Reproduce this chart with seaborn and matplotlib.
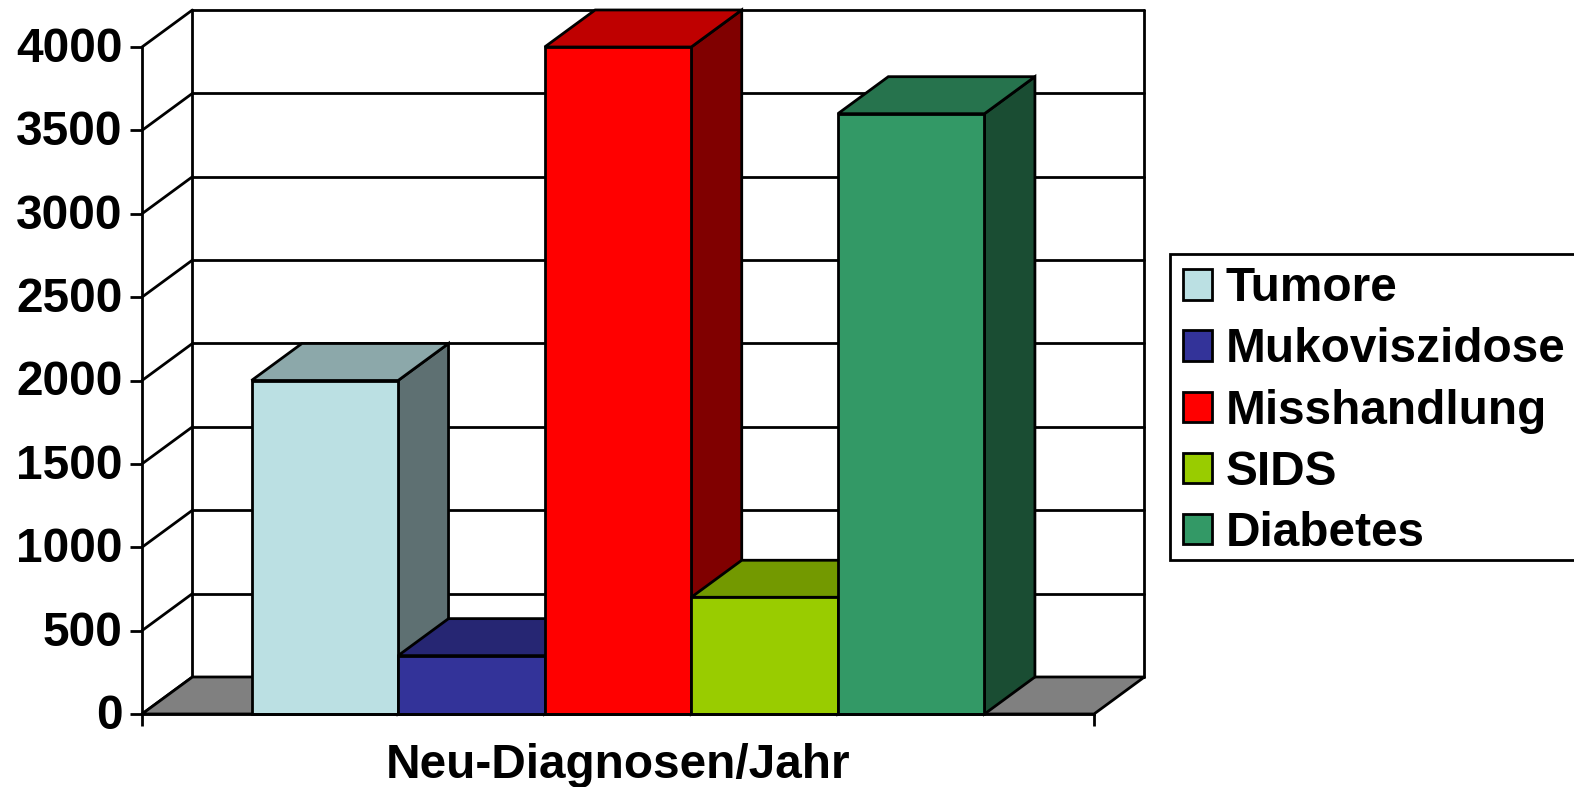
import seaborn as sns
import matplotlib.pyplot as plt
from matplotlib.patches import Patch, Polygon, Rectangle
from matplotlib.colors import to_rgb
from matplotlib.transforms import ScaledTranslation

sns.set_theme(style="white")
plt.rcParams['font.family'] = ['Liberation Sans', 'DejaVu Sans']

# Data
categories = ['Tumore', 'Mukoviszidose', 'Misshandlung', 'SIDS', 'Diabetes']
values = [2000, 350, 4000, 700, 3600]
colors = ['#BBE0E3', '#333399', '#FF0000', '#99CC00', '#339966']
y_ticks = [0, 500, 1000, 1500, 2000, 2500, 3000, 3500, 4000]
x_label = 'Neu-Diagnosen/Jahr'

W, H = 1574, 787
LW = 2.0
FS = 34.4

# depth of the fake 3d box in data units
xlim = (-1.247, 5.247)
ylim = (0, 4000)
dx = 0.344
dy = 222


def shade(c, f):
    return tuple(v * f for v in to_rgb(c))


fig = plt.figure(figsize=(W / 100, H / 100), dpi=100)
ax = fig.add_axes([142 / W, 1 - 714 / H, 952 / W, 667 / H])

sns.barplot(x=categories, y=values, hue=categories, palette=colors, dodge=False, saturation=1,
            width=1, edgecolor='black', linewidth=LW, legend=False, ax=ax, clip_on=False)
bars = sorted(ax.patches, key=lambda b: b.get_x())

ax.set_xlim(*xlim)
ax.set_ylim(*ylim)

# back wall and grid lines
x0, x1 = xlim
for t in y_ticks:
    ax.plot([x0 + dx, x1 + dx], [t + dy, t + dy], color='black', lw=LW, clip_on=False, zorder=0.5)
    ax.plot([x0, x0 + dx], [t, t + dy], color='black', lw=LW, clip_on=False, zorder=0.5)
ax.plot([x0 + dx, x0 + dx], [dy, ylim[1] + dy], color='black', lw=LW, clip_on=False, zorder=0.5)
ax.plot([x1 + dx, x1 + dx], [dy, ylim[1] + dy], color='black', lw=LW, clip_on=False, zorder=0.5)

# floor
ax.add_patch(Polygon([(x0, 0), (x0 + dx, dy), (x1 + dx, dy), (x1, 0)], closed=True,
                     facecolor='#808080', edgecolor='black', lw=LW, clip_on=False, zorder=0.6))

# side and top of each bar, painted left to right
for i, bar in enumerate(bars):
    left = bar.get_x()
    right = left + bar.get_width()
    top = bar.get_height()
    c = colors[i]
    z = 2 + i
    ax.add_patch(Polygon([(right, 0), (right + dx, dy), (right + dx, top + dy), (right, top)], closed=True,
                         facecolor=shade(c, 0.5), edgecolor='black', lw=LW, clip_on=False, zorder=z))
    ax.add_patch(Polygon([(left, top), (left + dx, top + dy), (right + dx, top + dy), (right, top)], closed=True,
                         facecolor=shade(c, 0.75), edgecolor='black', lw=LW, clip_on=False, zorder=z))
    bar.set_zorder(z + 0.5)

# axes
sns.despine(ax=ax, top=True, right=True)
for s in ['left', 'bottom']:
    ax.spines[s].set_color('black')
    ax.spines[s].set_linewidth(LW)
    ax.spines[s].set_zorder(20)

ax.set_yticks(y_ticks)
ax.set_xticks([x0, x1])
ax.set_xticklabels(['', ''])
ax.tick_params(axis='y', left=True, length=8.6, width=LW, color='black', pad=5.5,
               labelsize=FS, labelcolor='black')
ax.tick_params(axis='x', bottom=True, length=8.6, width=LW, color='black', pad=0)
up = ScaledTranslation(0, 2.5 / 100, fig.dpi_scale_trans)
for lab in ax.get_yticklabels():
    lab.set_fontweight('bold')
    lab.set_transform(lab.get_transform() + up)

ax.set_xlabel(x_label, fontsize=FS, fontweight='bold', color='black', labelpad=12)
ax.set_ylabel('')

# legend box runs off the right edge, drawn apart so its height can be set
fig.add_artist(Rectangle((1170 / W, 1 - 560 / H), 420 / W, 306 / H, transform=fig.transFigure,
                         facecolor='white', edgecolor='black', lw=LW, zorder=-1))
handles = [Patch(facecolor=c, edgecolor='black', lw=LW, label=n) for c, n in zip(colors, categories)]
leg = ax.legend(handles=handles, loc='upper left', bbox_to_anchor=(1170 / W, 1 - 253 / H),
                bbox_transform=fig.transFigure, frameon=False, borderaxespad=0, borderpad=0.28,
                handlelength=0.6, handleheight=0.6, handletextpad=0.28, labelspacing=0.337,
                prop={'size': FS, 'weight': 'bold'})
for t in leg.get_texts():
    t.set_color('black')

fig.savefig('out.png', dpi=100)
